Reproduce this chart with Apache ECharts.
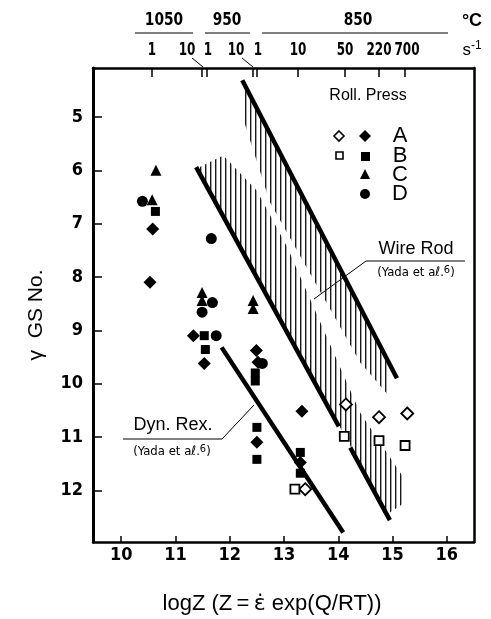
<!DOCTYPE html>
<html>
<head>
<meta charset="utf-8">
<script src="https://cdn.jsdelivr.net/npm/echarts@6/dist/echarts.min.js"></script>
<style>
  html, body { margin: 0; padding: 0; background: #fff; }
  #chart { width: 491px; height: 619px; }
</style>
</head>
<body>
<div id="chart"></div>
<script>
// tick values
var xTicks = [10, 11, 12, 13, 14, 15, 16];
var yTicks = [5, 6, 7, 8, 9, 10, 11, 12];
// top axis: strain-rate ticks (logZ) and their labels
var topTicks = [10.57, 11.49, 11.58, 12.43, 12.50, 13.26, 14.12, 14.75, 15.23];
var topLabels = ['1', '10', '1', '10', '1', '10', '50', '220', '700'];
var topTemps = ['1050', '950', '850'];

// Roll. Press  A..D  (logZ, gamma GS No.)
var aFilled = [[10.58, 7.1], [10.53, 8.1], [11.33, 9.1], [11.53, 9.62], [12.49, 9.38], [12.52, 9.6],
               [12.5, 11.1], [13.33, 10.52], [13.3, 11.48]];
var aOpen = [[13.39, 11.98], [14.14, 10.39], [14.75, 10.63], [15.27, 10.56]];
var bFilled = [[10.63, 6.77], [11.53, 9.1], [11.55, 9.36], [12.47, 9.8], [12.47, 9.95],
               [12.5, 10.82], [12.5, 11.42], [13.3, 11.29], [13.3, 11.68]];
var bOpen = [[13.2, 11.98], [14.11, 10.99], [14.75, 11.07], [15.23, 11.16]];
var cFilled = [[10.64, 6.0], [10.57, 6.55], [11.49, 8.29], [11.49, 8.44], [12.43, 8.44], [12.43, 8.59]];
var dFilled = [[10.39, 6.58], [11.66, 7.28], [11.68, 8.48], [11.49, 8.66], [11.75, 9.1], [12.6, 9.62]];

// Wire Rod / Dyn. Rex. lines (Yada et al.)
var wireUpper = [[12.23, 4.31], [15.08, 9.9]];
var wireLowerA = [[11.38, 5.94], [14.01, 10.8]];
var wireLowerB = [[14.22, 11.2], [14.95, 12.56]];
var dynRex = [[11.85, 9.32], [14.09, 12.79]];
// hatched fringes of the Wire Rod band
var hatchUpper = [[12.27, 4.38], [14.95, 9.63], [14.95, 10.25], [14.4, 9.6], [12.74, 6.6], [12.27, 5.1]];
var hatchLower = [[11.42, 5.95], [11.88, 5.72], [12.5, 6.38], [13.06, 7.44], [14.4, 10.54], [15.2, 11.76],
                  [15.2, 12.25], [14.9, 12.45], [14.4, 11.5], [11.42, 6.0]];

var numFont = "'DejaVu Sans Condensed', 'Liberation Sans Narrow', sans-serif";
var txtFont = "'Liberation Sans', Arial, sans-serif";

// vertical stripe pattern for the hatching
var pc = document.createElement('canvas');
pc.width = 5; pc.height = 4;
var pctx = pc.getContext('2d');
pctx.fillStyle = '#1a1a1a';
pctx.fillRect(0, 0, 1.4, 4);
var stripes = { image: pc, repeat: 'repeat' };

function polySeries(pts) {
  return {
    type: 'custom', silent: true, z: 1,
    data: pts,
    renderItem: function (params, api) {
      if (params.dataIndex !== 0) return;
      return {
        type: 'polygon',
        shape: { points: pts.map(function (p) { return api.coord(p); }) },
        style: { fill: stripes }
      };
    }
  };
}
function lineSeries(pts) {
  return {
    type: 'line', data: pts, symbol: 'none', silent: true, z: 3,
    lineStyle: { color: '#000', width: 4.5 }
  };
}
function markSeries(pts, symbol, size, open) {
  return {
    type: 'scatter', data: pts, symbol: symbol, symbolSize: size, z: 5,
    itemStyle: open ? { color: '#fff', borderColor: '#000', borderWidth: 1.8, opacity: 1 } : { color: '#000', opacity: 1 }
  };
}

var chart = echarts.init(document.getElementById('chart'));
var option = {
  animation: false,
  grid: { left: 93, top: 68, width: 381, height: 474 },
  xAxis: [{
    type: 'value', min: 9.48, max: 16.5, position: 'bottom',
    axisLine: { lineStyle: { color: '#000', width: 2.5 } },
    axisTick: { inside: true, length: 6, customValues: xTicks, lineStyle: { color: '#000', width: 1.5 } },
    axisLabel: { customValues: xTicks, color: '#000', fontSize: 18, fontWeight: 'bold', fontFamily: numFont, margin: 4 },
    splitLine: { show: false }
  }, {
    type: 'value', min: 9.48, max: 16.5, position: 'top',
    axisLine: { lineStyle: { color: '#000', width: 2.5 } },
    axisTick: { inside: true, length: 9, customValues: topTicks, lineStyle: { color: '#000', width: 1.5 } },
    axisLabel: { show: false },
    splitLine: { show: false }
  }],
  yAxis: [{
    type: 'value', min: 4.08, max: 12.97, inverse: true, position: 'left',
    axisLine: { lineStyle: { color: '#000', width: 3 } },
    axisTick: { inside: true, length: 9, customValues: yTicks, lineStyle: { color: '#000', width: 1.5 } },
    axisLabel: { customValues: yTicks, color: '#000', fontSize: 18, fontWeight: 'bold', fontFamily: numFont, margin: 10 },
    splitLine: { show: false }
  }, {
    type: 'value', min: 4.08, max: 12.97, inverse: true, position: 'right',
    axisLine: { show: true, lineStyle: { color: '#000', width: 2.5 } },
    axisTick: { show: false }, axisLabel: { show: false }, splitLine: { show: false }
  }],
  series: [
    polySeries(hatchUpper),
    polySeries(hatchLower),
    lineSeries(wireUpper),
    lineSeries(wireLowerA),
    lineSeries(wireLowerB),
    lineSeries(dynRex),
    markSeries(aFilled, 'diamond', 13, false),
    markSeries(aOpen, 'diamond', 12, true),
    markSeries(bFilled, 'rect', 9, false),
    markSeries(bOpen, 'rect', 9, true),
    markSeries(cFilled, 'triangle', 11, false),
    markSeries(dFilled, 'circle', 11, false)
  ],
  graphic: []
};
chart.setOption(option);

// top strain-rate labels, temperatures and annotations (pixel layout)
var g = [];
var topLabelX = [152, 187, 208, 236, 258, 298, 345, 379, 407];
topLabels.forEach(function (t, i) {
  g.push({ type: 'text', x: topLabelX[i], y: 50, scaleX: 0.74, style: { text: t, fill: '#000', font: 'bold 18px ' + numFont, align: 'center', verticalAlign: 'middle' } });
});
g.push({ type: 'line', shape: { x1: 192, y1: 58, x2: 203, y2: 67 }, style: { stroke: '#000', lineWidth: 1 } });
g.push({ type: 'line', shape: { x1: 242, y1: 58, x2: 253, y2: 67 }, style: { stroke: '#000', lineWidth: 1 } });
var tempPos = [[164, 135, 193], [227, 205, 250], [358, 262, 448]];
topTemps.forEach(function (t, i) {
  var p = tempPos[i];
  g.push({ type: 'text', x: p[0], y: 20, scaleX: 0.85, style: { text: t, fill: '#000', font: 'bold 18px ' + numFont, align: 'center', verticalAlign: 'middle' } });
  g.push({ type: 'line', shape: { x1: p[1], y1: 33, x2: p[2], y2: 33 }, style: { stroke: '#000', lineWidth: 1 } });
});
g.push({ type: 'text', x: 472, y: 21, style: { text: '°C', fill: '#000', font: 'bold 18px ' + txtFont, align: 'center', verticalAlign: 'middle' } });
g.push({ type: 'text', x: 472, y: 50, style: {
  text: '{a|s}{b|-1}', align: 'center', verticalAlign: 'middle',
  rich: { a: { fontSize: 17, fontFamily: txtFont, fill: '#000' }, b: { fontSize: 12, fontFamily: txtFont, fill: '#000', verticalAlign: 'top', padding: [0, 0, 8, 0] } }
} });

// legend box
g.push({ type: 'text', x: 368, y: 96, style: { text: 'Roll. Press', fill: '#000', font: '16px ' + txtFont, align: 'center', verticalAlign: 'middle' } });
var rows = ['A', 'B', 'C', 'D'];
var rowY = [136, 156, 175, 194];
rows.forEach(function (r, i) {
  g.push({ type: 'text', x: 400, y: rowY[i], style: { text: r, fill: '#000', font: '22px ' + txtFont, align: 'center', verticalAlign: 'middle' } });
});
function diamond(cx, cy, s, fill) {
  return { type: 'polygon', shape: { points: [[cx, cy - s], [cx + s, cy], [cx, cy + s], [cx - s, cy]] },
    style: fill ? { fill: '#000' } : { fill: '#fff', stroke: '#000', lineWidth: 1.6 } };
}
g.push(diamond(339, 136, 5, false));
g.push(diamond(365, 136, 6, true));
g.push({ type: 'rect', shape: { x: 336, y: 152, width: 7, height: 7 }, style: { fill: '#fff', stroke: '#000', lineWidth: 1.6 } });
g.push({ type: 'rect', shape: { x: 361, y: 152, width: 9, height: 9 }, style: { fill: '#000' } });
g.push({ type: 'polygon', shape: { points: [[365, 169], [370, 179], [360, 179]] }, style: { fill: '#000' } });
g.push({ type: 'circle', shape: { cx: 365, cy: 194, r: 5 }, style: { fill: '#000' } });

// Wire Rod annotation
function yadaText(x, y) {
  return { type: 'text', x: x, y: y, style: {
    text: '{a|(Yada et a\u2113.}{b|6}{a|)}', align: 'center', verticalAlign: 'middle',
    rich: { a: { fontSize: 13, fontFamily: numFont, fill: '#000' }, b: { fontSize: 11, fontFamily: numFont, fill: '#000', padding: [0, 0, 6, 0] } }
  } };
}
g.push({ type: 'text', x: 416, y: 249, style: { text: 'Wire Rod', fill: '#000', font: '18px ' + txtFont, align: 'center', verticalAlign: 'middle' } });
g.push({ type: 'line', shape: { x1: 366, y1: 261, x2: 465, y2: 261 }, style: { stroke: '#000', lineWidth: 1 } });
g.push({ type: 'line', shape: { x1: 366, y1: 261, x2: 314, y2: 299 }, style: { stroke: '#000', lineWidth: 1 } });
g.push(yadaText(416, 273));

// Dyn. Rex. annotation
g.push({ type: 'text', x: 173, y: 425, style: { text: 'Dyn. Rex.', fill: '#000', font: '18px ' + txtFont, align: 'center', verticalAlign: 'middle' } });
g.push({ type: 'line', shape: { x1: 123, y1: 439, x2: 222, y2: 439 }, style: { stroke: '#000', lineWidth: 1 } });
g.push({ type: 'line', shape: { x1: 222, y1: 439, x2: 254, y2: 405 }, style: { stroke: '#000', lineWidth: 1 } });
g.push(yadaText(172, 452));

// axis titles
g.push({ type: 'text', x: 272, y: 604, style: {
  text: '{a|logZ (Z\u2009=\u2009}{e|\u03b5\u0307}{a| exp(Q/RT))}', align: 'center', verticalAlign: 'middle',
  rich: { a: { fontSize: 22, fontFamily: txtFont, fill: '#000' }, e: { fontSize: 22, fontFamily: "'DejaVu Sans', sans-serif", fill: '#000' } }
} });
g.push({ type: 'text', x: 36, y: 315, rotation: Math.PI / 2, style: { text: '\u03b3  GS No.', fill: '#000', font: '21px ' + txtFont, align: 'center', verticalAlign: 'middle' } });

chart.setOption({ graphic: g });
</script>
</body>
</html>
